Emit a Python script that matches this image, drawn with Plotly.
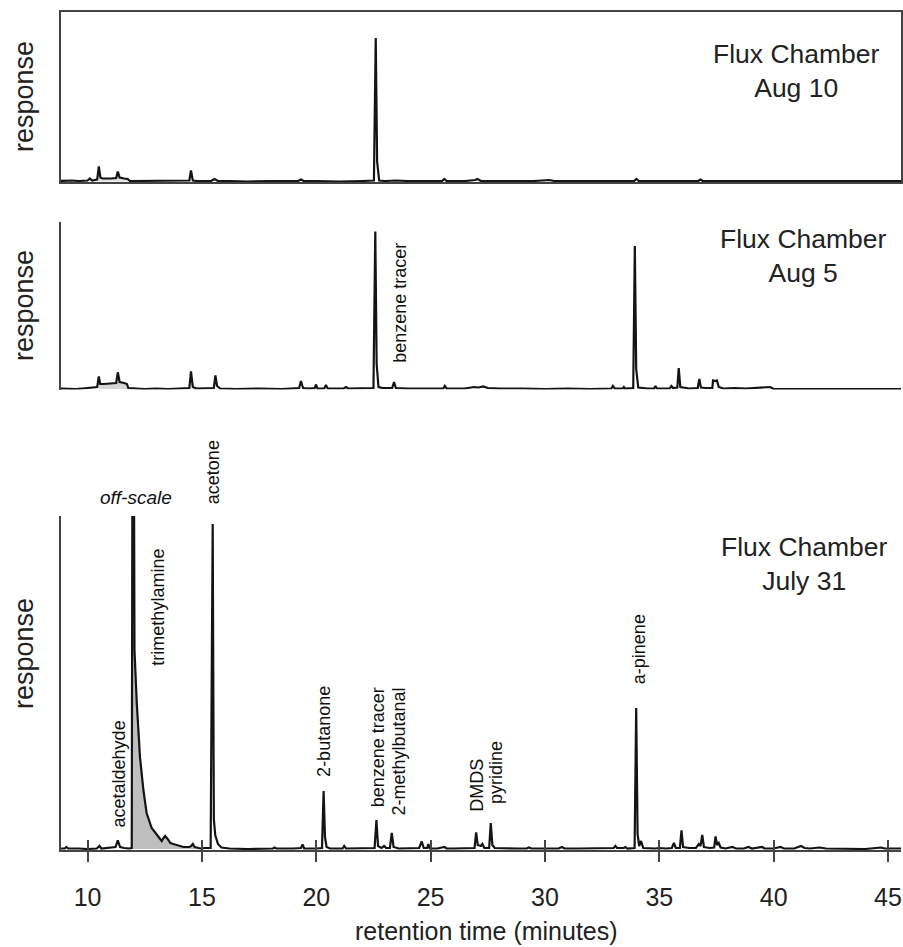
import plotly.graph_objects as go

# Chromatograms: (retention time in minutes, detector response in arbitrary units)
aug10 = [
    (8.8, 0.5), (9.3, 1), (9.6, 0.5), (10.0, 1), (10.1, 3), (10.2, 1), (10.42, 2), (10.49, 15),
    (10.56, 4), (10.65, 3), (11.0, 3), (11.25, 3.5), (11.32, 10), (11.4, 4), (11.6, 3), (11.75, 2.5),
    (11.85, 0.5), (12.3, 0.5), (12.8, 1), (13.3, 0.5), (13.6, 1), (14.0, 0.5), (14.45, 1), (14.52, 11),
    (14.6, 1), (14.8, 0.5), (15.4, 0.5), (15.55, 2.5), (15.7, 0.5), (16.2, 0.5), (17.0, 0), (18.0, 0.5),
    (19.2, 0.5), (19.33, 2), (19.45, 0.5), (20.0, 0.5), (21.0, 0), (22.0, 0.5), (22.52, 1), (22.6, 143.5),
    (22.66, 20), (22.75, 1), (23.0, 0.5), (23.5, 1), (24.0, 0.5), (25.5, 0.5), (25.6, 2.5), (25.7, 0.5),
    (26.5, 0.5), (26.95, 1.5), (27.05, 2.5), (27.2, 0.5), (28.5, 0.5), (29.5, 0.5), (30.2, 1.5), (30.4, 0.5),
    (31.5, 0.5), (32.5, 0.5), (33.9, 0.5), (34.0, 2.5), (34.1, 0.5), (35.0, 0.5), (36.7, 0.5), (36.8, 2),
    (36.9, 0.5), (38.0, 0.5), (39.5, 0.5), (41.0, 0.5), (43.0, 0.5), (45.8, 0.5),
]

aug5 = [
    (8.8, 0.5), (9.5, 0), (10.0, 1), (10.3, 1.5), (10.42, 2), (10.49, 12.6), (10.55, 5), (10.7, 5),
    (11.0, 5.5), (11.25, 6), (11.32, 16.7), (11.4, 7), (11.6, 6), (11.72, 5), (11.78, 1), (12.0, 0.5),
    (12.5, 0), (13.0, 0.5), (13.5, 0), (14.0, 0.5), (14.45, 1), (14.52, 17.7), (14.6, 2), (14.75, 0.5),
    (15.2, 0.5), (15.52, 1), (15.59, 13.7), (15.66, 3), (15.8, 0.5), (16.5, 0), (17.5, 0.5), (18.5, 0),
    (19.25, 1), (19.33, 8), (19.42, 1), (19.7, 0.5), (19.93, 1), (19.99, 4.5), (20.05, 0.5), (20.35, 0.5),
    (20.42, 4), (20.5, 0.5), (21.2, 0.5), (21.3, 2), (21.4, 0.5), (22.0, 0.5), (22.5, 1), (22.58, 157.5),
    (22.64, 25), (22.72, 2), (22.9, 1), (23.32, 1), (23.4, 7), (23.48, 1), (24.0, 0.5), (25.0, 0.5),
    (25.55, 0.5), (25.62, 3), (25.7, 0.5), (26.5, 0.5), (26.9, 2), (27.1, 1.5), (27.3, 2.5), (27.5, 1),
    (28.0, 0.5), (29.0, 0.5), (30.0, 0), (31.0, 0.5), (32.0, 0), (32.9, 0.5), (32.97, 3), (33.05, 0.5),
    (33.4, 0.5), (33.45, 2), (33.5, 0.5), (33.86, 1), (33.93, 143), (33.99, 20), (34.08, 1.5), (34.5, 0.5),
    (34.78, 0.5), (34.83, 3), (34.9, 0.5), (35.45, 0.5), (35.53, 3), (35.6, 1), (35.79, 1.5), (35.85, 21),
    (35.92, 2), (36.3, 0.5), (36.68, 1), (36.75, 10), (36.82, 1.5), (37.0, 1), (37.32, 1), (37.35, 8.6),
    (37.45, 8), (37.52, 8.6), (37.6, 2), (37.8, 0.5), (38.3, 1), (38.8, 0.5), (39.3, 1), (39.85, 2),
    (40.0, 0), (45.8, 0),
]

jul31 = [
    (8.8, 0.5), (9.0, 0.5), (9.07, 2), (9.15, 0.5), (9.6, 0.5), (10.0, 0), (10.4, 0.5), (10.52, 3),
    (10.6, 0.5), (11.0, 1), (11.22, 2), (11.32, 8.7), (11.42, 2), (11.6, 1), (11.8, 0.5), (11.93, 1),
    (11.97, 520), (12.01, 520), (12.05, 199), (12.15, 146), (12.29, 92), (12.44, 59), (12.58, 36),
    (12.8, 21), (13.02, 14), (13.12, 12), (13.24, 8), (13.32, 11), (13.39, 13), (13.5, 10), (13.62, 6),
    (13.75, 5), (13.95, 3.5), (14.19, 2), (14.45, 2), (14.53, 3), (14.6, 5), (14.68, 2), (14.85, 1),
    (14.95, 0.5), (15.1, 1), (15.38, 1), (15.47, 325), (15.52, 30), (15.58, 14), (15.7, 5), (15.85, 1.5),
    (16.2, 0.5), (17.0, 0), (17.5, 0.5), (18.1, 0.5), (18.17, 1.5), (18.25, 0.5), (19.0, 0.5), (19.33, 1),
    (19.4, 4.5), (19.47, 0.5), (20.0, 0.5), (20.25, 1), (20.32, 58), (20.38, 12), (20.45, 2), (20.6, 0.5),
    (21.15, 0.5), (21.22, 3), (21.3, 0.5), (22.0, 0.5), (22.55, 1), (22.63, 29), (22.7, 3), (22.85, 1),
    (22.97, 3), (23.05, 1), (23.22, 1), (23.3, 16), (23.38, 2), (23.6, 0.5), (24.0, 1), (24.5, 1),
    (24.61, 7.6), (24.7, 1), (24.85, 1), (24.9, 5), (24.96, 0.5), (25.3, 0.5), (25.6, 2), (25.7, 0.5),
    (26.0, 0.5), (26.5, 0.5), (26.92, 1), (26.99, 16.6), (27.06, 4), (27.2, 3), (27.26, 5), (27.35, 1),
    (27.56, 1), (27.63, 26), (27.7, 4), (27.8, 1), (28.2, 0.5), (28.8, 0.5), (29.2, 0.5), (29.3, 1.5),
    (29.4, 0.5), (30.0, 0.5), (30.6, 0.5), (30.74, 2), (30.85, 0.5), (31.5, 0.5), (32.0, 0.5), (32.6, 0.5),
    (33.0, 1), (33.08, 3), (33.15, 1), (33.45, 1), (33.52, 2), (33.6, 0.5), (33.92, 1), (33.99, 141),
    (34.05, 15), (34.12, 3), (34.2, 8), (34.3, 1), (34.6, 0.5), (34.8, 0.5), (35.0, 1), (35.3, 0.5),
    (35.55, 1), (35.64, 6), (35.72, 1), (35.9, 1), (35.97, 18.6), (36.04, 2), (36.3, 1), (36.6, 1),
    (36.73, 5), (36.8, 3), (36.88, 14), (36.95, 2), (37.2, 1), (37.4, 1.5), (37.46, 12.6), (37.53, 4),
    (37.6, 6), (37.68, 1.5), (37.9, 0.5), (38.2, 2), (38.35, 0.5), (38.7, 0.5), (38.9, 2), (39.05, 0.5),
    (39.5, 2), (39.6, 0.5), (40.0, 0.5), (40.3, 2), (40.45, 0.5), (40.9, 0.5), (41.2, 3), (41.35, 1),
    (41.6, 0.5), (42.0, 1.5), (42.3, 0.5), (43.0, 0.5), (44.0, 0), (44.7, 1.5), (44.85, 0.5), (45.8, 0.5),
]

# Shaded retention windows (start, end) for each run
shade_aug10 = (10.45, 11.8)
shade_aug5 = (10.45, 11.8)
shade_jul31 = (11.93, 14.95)

# Compound labels for the July 31 run: (name, label centre time, label base response)
jul31_labels = [
    ("acetaldehyde", 11.37, 21),
    ("trimethylamine", 13.04, 182),
    ("2-butanone", 20.31, 71),
    ("benzene tracer", 22.71, 41),
    ("2-methylbutanal", 23.6, 32),
    ("DMDS", 27.0, 36),
    ("pyridine", 27.84, 44),
    ("a-pinene", 34.12, 164),
]

x_ticks = [10, 15, 20, 25, 30, 35, 40, 45]
x_range = [8.836, 45.57]

FONT = "Liberation Sans, Arial, sans-serif"
TRACE = "#141414"
AXIS = "#444444"

W, H = 903, 947
ML, MT, MB = 61, 12, 97
PH = H - MT - MB


def py(p):
    """Convert a page row to paper y."""
    return (H - MB - p) / PH


def px(p):
    return (p - ML) / (W - ML)


fig = go.Figure()


def add_run(data, shade, xa, ya, shade_color):
    t = [d[0] for d in data]
    r = [d[1] for d in data]
    st = [a for a, b in data if shade[0] <= a <= shade[1]]
    sr = [b for a, b in data if shade[0] <= a <= shade[1]]
    fig.add_trace(go.Scatter(x=st, y=sr, mode="lines", fill="tozeroy", fillcolor=shade_color,
                             line=dict(width=0), xaxis=xa, yaxis=ya, hoverinfo="skip",
                             showlegend=False))
    fig.add_trace(go.Scatter(x=t, y=r, mode="lines", line=dict(color=TRACE, width=2.2),
                             xaxis=xa, yaxis=ya, showlegend=False))


add_run(aug10, shade_aug10, "x", "y", "#e0e0e0")
add_run(aug5, shade_aug5, "x2", "y2", "#d6d6d6")
add_run(jul31, shade_jul31, "x3", "y3", "#bfbfbf")
# invisible point so the overlaid inward-tick axis is drawn
fig.add_trace(go.Scatter(x=[x_ticks[0]], y=[0], mode="markers", marker=dict(opacity=0),
                         xaxis="x4", yaxis="y3", hoverinfo="skip", showlegend=False))

tickfont = dict(family=FONT, size=25, color="#222")

fig.update_layout(
    width=W, height=H,
    margin=dict(l=ML, r=0, t=MT, b=MB),
    paper_bgcolor="white", plot_bgcolor="white",
    showlegend=False,
    xaxis=dict(domain=[0, 1], range=x_range, anchor="y", showline=True, mirror=True,
               linecolor=AXIS, linewidth=2, showgrid=False, zeroline=False,
               showticklabels=False, ticks=""),
    yaxis=dict(domain=[py(182), 1.0], range=[-0.5, 169.5], anchor="x", showline=True, mirror=True,
               linecolor=AXIS, linewidth=2, showgrid=False, zeroline=False,
               showticklabels=False, ticks=""),
    xaxis2=dict(domain=[0, 1], range=x_range, anchor="y2", showline=False, showgrid=False,
                zeroline=False, showticklabels=False, ticks=""),
    yaxis2=dict(domain=[py(389.5), py(221.7)], range=[-0.5, 167.3], anchor="x2", showline=True,
                linecolor=AXIS, linewidth=2, showgrid=False, zeroline=False,
                showticklabels=False, ticks=""),
    xaxis3=dict(domain=[0, 1], range=x_range, anchor="y3", showline=True, linecolor=AXIS,
                linewidth=2, showgrid=False, zeroline=False, tickmode="array", tickvals=x_ticks,
                ticktext=[str(v) for v in x_ticks], ticks="outside", ticklen=10, tickwidth=2,
                tickcolor=AXIS, tickfont=tickfont, ticklabelstandoff=14),
    xaxis4=dict(domain=[0, 1], range=x_range, anchor="y3", overlaying="x3", showline=False,
                showgrid=False, zeroline=False, tickmode="array", tickvals=x_ticks, ticks="inside",
                ticklen=10, tickwidth=2, tickcolor=AXIS, showticklabels=False, side="bottom"),
    yaxis3=dict(domain=[0, py(516)], range=[-1, 333], anchor="x3", showline=True, linecolor=AXIS,
                linewidth=2, showgrid=False, zeroline=False, showticklabels=False, ticks=""),
)

annotations = []
# y-axis titles
for yc in (97, 306, 654):
    annotations.append(dict(text="response", xref="paper", yref="paper", x=px(24), y=py(yc),
                            xanchor="center", yanchor="middle", textangle=-90, showarrow=False,
                            font=dict(family=FONT, size=27, color="#222")))

# x-axis title
annotations.append(dict(text="retention time (minutes)", xref="paper", yref="paper",
                        x=px(488), y=py(931), xanchor="center", yanchor="middle",
                        showarrow=False, borderpad=0,
                        font=dict(family=FONT, size=25, color="#222")))

# run titles
runs = [("Flux Chamber<br>Aug 10", "x", "y", 40.98, 110.5),
        ("Flux Chamber<br>Aug 5", "x2", "y2", 41.29, 133),
        ("Flux Chamber<br>July 31", "x3", "y3", 41.33, 285)]
for text, xr, yr, xv, yv in runs:
    annotations.append(dict(text=text, xref=xr, yref=yr, x=xv, y=yv, xanchor="center",
                            yanchor="middle", showarrow=False,
                            font=dict(family=FONT, size=26.5, color="#222")))

label_font = dict(family=FONT, size=18, color="#111")
for name, tx, base in jul31_labels:
    annotations.append(dict(text=name, xref="x3", yref="y3", x=tx, y=base, xanchor="center",
                            yanchor="bottom", textangle=-90, showarrow=False, font=label_font,
                            borderpad=0))
# labels that sit above the July 31 panel
annotations.append(dict(text="acetone", xref="x3", yref="paper", x=15.49, y=py(505),
                        xanchor="center", yanchor="bottom", textangle=-90, showarrow=False,
                        font=label_font, borderpad=0))
annotations.append(dict(text="<i>off-scale</i>", xref="x3", yref="paper", x=12.12, y=py(497),
                        xanchor="center", yanchor="middle", showarrow=False,
                        font=dict(family=FONT, size=19, color="#111")))
# benzene tracer in the Aug 5 run
annotations.append(dict(text="benzene tracer", xref="x2", yref="y2", x=23.68, y=25.7,
                        xanchor="center", yanchor="bottom", textangle=-90, showarrow=False,
                        font=label_font, borderpad=0))

fig.update_layout(annotations=annotations)

fig.write_html("out.html")
